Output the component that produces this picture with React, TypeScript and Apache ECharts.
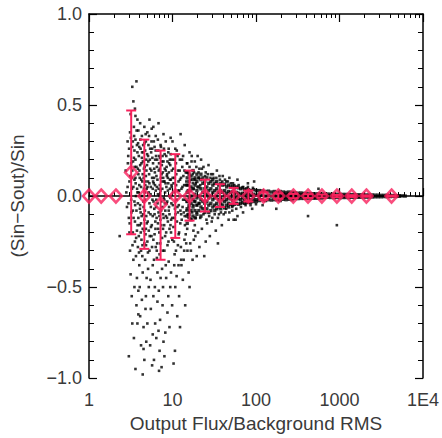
import React, { useEffect, useRef } from 'react';
import * as echarts from 'echarts';

const RED = '#f8215c';
const TEXT = '#3a3a3a';

// tick positions and labels
const xMajorTicks = [1, 10, 100, 1000, 10000];
const xTickLabels = ['1', '10', '100', '1000', '1E4'];
const xMinorTicks = [2, 3, 4, 5, 6, 7, 8, 9, 20, 30, 40, 50, 60, 70, 80, 90, 200, 300, 400, 500, 600, 700, 800, 900, 2000, 3000, 4000, 5000, 6000, 7000, 8000, 9000];
const yTickValues = [-1, -0.5, 0, 0.5, 1];
const yTickLabels = ['\u22121.0', '\u22120.5', '0.0', '0.5', '1.0'];

// binned means (red diamonds) and their error bar ends
const binX = [1, 1.4, 2.1, 3.2, 4.6, 7.2, 10.8, 16, 24.5, 37, 54, 81, 123, 185, 280, 420, 615, 930, 1400, 2100, 4200];
const binY = [0, 0, 0, 0.13, 0, -0.045, 0, 0, 0, 0, 0, 0, 0, 0, 0, 0, 0, 0, 0, 0, 0];
const binHigh = [null, null, null, 0.47, 0.31, 0.25, 0.23, 0.14, 0.09, 0.065, 0.045, 0.03, 0.02, 0.015, 0.012, 0.01, 0.008, 0.006, 0.005, 0.004, 0.003];
const binLow = [null, null, null, -0.21, -0.29, -0.35, -0.23, -0.135, -0.085, -0.06, -0.043, -0.03, -0.02, -0.015, -0.012, -0.01, -0.008, -0.006, -0.005, -0.004, -0.003];

// individual sources: sparse outer cloud
const scatterLeft: [number, number][] = [
  [2.33, -0.22], [2.75, 0.14], [2.8, 0.02], [2.85, -0.06], [2.9, 0.3], [2.95, 0.22], [3.0, -0.12], [3.05, 0.08], [3.1, 0.35], [3.1, -0.3],
  [3.15, -0.43], [3.2, 0.18], [3.2, -0.02], [3.25, -0.55], [3.0, -0.88], [3.3, 0.27], [2.9, 0.05], [3.05, -0.2], [3.15, 0.45], [3.25, 0.1],
  [3.3, 0.6], [3.4, 0.52], [3.55, 0.48], [3.7, 0.63], [3.6, 0.44], [3.8, 0.42], [3.45, 0.38], [3.9, 0.36], [4.1, 0.4], [4.3, 0.33], [4.6, 0.38], [4.8, 0.3],
  [3.35, 0.3], [3.5, 0.25], [3.6, 0.2], [3.75, 0.28], [3.85, 0.15], [3.95, 0.22], [4.05, 0.1], [4.15, 0.26], [4.25, 0.18], [4.4, 0.12], [4.5, 0.24], [4.65, 0.16], [4.75, 0.08], [4.85, 0.2],
  [3.4, 0.05], [3.5, -0.03], [3.6, 0.1], [3.7, -0.08], [3.8, 0.02], [3.9, -0.12], [4.0, 0.06], [4.1, -0.05], [4.2, -0.15], [4.3, 0.0], [4.45, -0.1], [4.55, 0.04], [4.7, -0.02], [4.8, -0.18],
  [3.35, -0.2], [3.55, -0.25], [3.65, -0.33], [3.85, -0.28], [4.0, -0.38], [4.2, -0.3], [4.4, -0.42], [4.6, -0.26], [4.7, -0.35], [4.9, -0.45],
  [3.5, -0.5], [3.7, -0.6], [3.9, -0.52], [4.1, -0.66], [4.3, -0.57], [4.5, -0.72], [4.75, -0.62], [3.45, -0.78], [3.8, -0.7], [4.2, -0.82], [4.6, -0.9], [4.85, -0.8], [3.6, -0.95], [4.4, -0.98],
];

const scatterMid: [number, number][] = [
  [5.0, 0.35], [5.3, 0.42], [5.6, 0.3], [5.9, 0.38], [6.3, 0.33], [6.8, 0.4], [7.2, 0.28], [7.8, 0.34], [8.3, 0.3], [9.0, 0.26], [9.5, 0.32],
  [5.1, 0.22], [5.4, 0.15], [5.7, 0.26], [6.0, 0.1], [6.2, 0.2], [6.5, 0.05], [6.9, 0.18], [7.4, 0.12], [7.6, 0.22], [8.0, 0.08], [8.5, 0.16], [8.8, 0.1], [9.3, 0.2],
  [5.2, 0.02], [5.5, -0.06], [5.8, 0.04], [6.1, -0.1], [6.4, -0.02], [6.7, -0.15], [7.0, 0.0], [7.3, -0.08], [7.7, -0.18], [8.1, -0.04], [8.6, -0.12], [9.1, -0.06], [9.6, -0.2],
  [5.0, -0.25], [5.3, -0.3], [5.6, -0.22], [6.0, -0.35], [6.3, -0.28], [6.6, -0.42], [7.0, -0.32], [7.5, -0.4], [8.0, -0.3], [8.4, -0.45], [9.0, -0.36], [9.4, -0.5],
  [5.2, -0.5], [5.5, -0.62], [5.9, -0.55], [6.2, -0.7], [6.6, -0.58], [7.1, -0.68], [7.6, -0.6], [8.2, -0.75], [8.7, -0.64], [5.4, -0.82], [6.0, -0.9], [6.4, -0.78],
  [7.0, -0.85], [7.4, -0.94], [8.0, -0.88], [9.2, -0.72], [10.3, -0.92], [5.7, -0.93], [6.9, -0.96],
  [3.3, 0.14], [3.35, -0.08], [3.45, 0.21], [3.5, 0.09], [3.55, -0.14], [3.6, 0.31], [3.65, 0.0], [3.7, 0.16], [3.75, -0.19], [3.8, 0.24], [3.85, -0.04], [3.9, 0.12],
  [3.95, -0.22], [4.0, 0.27], [4.05, -0.16], [4.1, 0.17], [4.15, -0.09], [4.2, 0.05], [4.25, -0.24], [4.3, 0.21], [4.35, 0.08], [4.4, -0.18], [4.45, 0.28], [4.5, -0.06],
  [4.55, 0.15], [4.6, -0.13], [4.65, 0.02], [4.7, 0.25], [4.75, -0.21], [4.8, 0.11], [4.85, -0.11], [4.9, 0.04], [4.95, 0.17],
  [5.05, -0.14], [5.1, 0.08], [5.15, 0.28], [5.2, -0.19], [5.25, 0.12], [5.3, -0.04], [5.35, 0.2], [5.45, -0.1], [5.5, 0.05], [5.55, 0.24], [5.65, -0.16], [5.7, 0.1],
  [5.75, -0.02], [5.85, 0.18], [5.9, -0.24], [5.95, 0.07], [6.05, -0.07], [6.1, 0.27], [6.15, 0.13], [6.25, -0.18], [6.3, 0.03], [6.35, 0.22], [6.45, -0.12], [6.5, 0.16],
  [6.55, -0.26], [6.6, 0.09], [6.7, 0.01], [6.75, 0.25], [6.8, -0.09], [6.85, 0.14], [6.95, -0.2], [7.05, 0.06], [7.1, 0.21], [7.15, -0.13], [7.25, 0.1], [7.35, -0.03],
  [7.45, 0.17], [7.5, -0.23], [7.55, 0.04], [7.65, 0.13], [7.7, -0.1], [7.8, 0.19], [7.85, -0.01], [7.9, 0.08], [7.95, -0.16], [8.05, 0.23], [8.15, 0.02], [8.2, -0.08],
  [8.3, 0.14], [8.4, -0.2], [8.45, 0.05], [8.55, 0.11], [8.65, -0.03], [8.7, 0.19], [8.8, -0.14], [8.9, 0.07], [8.95, -0.25], [9.05, 0.13], [9.15, 0.0], [9.2, -0.1],
  [9.3, 0.04], [9.4, 0.17], [9.45, -0.16], [9.55, 0.09], [9.7, -0.04], [9.8, 0.14], [9.9, -0.12],
  [3.4, -0.35], [3.75, -0.45], [4.05, -0.5], [4.35, -0.33], [4.8, -0.55], [5.1, -0.4], [5.45, -0.46], [5.8, -0.38], [6.15, -0.5], [6.5, -0.34], [6.85, -0.52], [7.2, -0.45],
  [7.7, -0.5], [8.3, -0.38], [8.9, -0.55], [9.6, -0.42], [10.5, -0.38], [11.2, -0.44], [12.8, -0.38], [13.8, -0.3], [3.9, -0.65], [5.0, -0.7], [5.8, -0.76], [6.8, -0.74],
  [7.8, -0.8], [4.5, -0.84], [3.3, -0.7], [9.9, -0.6], [12.3, -0.72], [10.7, -0.85],
];

const scatterExtra: [number, number][] = [
  [2.92, 0.18], [2.97, -0.04], [3.02, 0.26], [3.07, -0.15], [3.12, 0.11], [3.17, 0.32], [3.22, -0.09], [3.27, 0.04], [3.32, -0.27], [3.37, 0.19], [3.42, -0.12],
  [3.47, 0.33], [3.52, 0.16], [3.57, -0.05], [3.62, 0.07], [3.67, -0.23], [3.72, 0.36], [3.77, 0.04], [3.82, -0.16], [3.87, 0.29], [3.92, 0.02], [3.97, -0.31],
  [4.02, 0.14], [4.07, -0.07], [4.12, 0.31], [4.17, -0.2], [4.22, 0.09], [4.27, -0.11], [4.32, 0.24], [4.37, -0.27], [4.42, 0.19], [4.47, -0.03], [4.52, 0.1],
  [4.57, -0.19], [4.62, 0.29], [4.67, -0.08], [4.72, 0.06], [4.77, 0.34], [4.82, -0.27], [4.87, 0.14], [4.92, -0.15], [4.97, 0.23],
  [5.02, 0.05], [5.08, -0.31], [5.13, 0.19], [5.18, -0.09], [5.24, 0.33], [5.29, 0.07], [5.34, -0.22], [5.4, 0.26], [5.46, 0.01], [5.52, -0.17], [5.58, 0.14],
  [5.63, 0.37], [5.69, -0.28], [5.74, 0.21], [5.8, -0.11], [5.86, 0.08], [5.92, -0.03], [5.98, 0.3], [6.04, 0.15], [6.1, -0.21], [6.17, 0.06], [6.23, -0.14],
  [6.29, 0.25], [6.36, -0.06], [6.42, 0.11], [6.48, -0.3], [6.55, 0.2], [6.62, -0.04], [6.68, 0.31], [6.75, -0.18], [6.82, 0.04], [6.89, 0.22], [6.97, -0.11],
  [7.04, 0.15], [7.12, -0.26], [7.19, 0.03], [7.27, 0.27], [7.34, -0.16], [7.42, 0.08], [7.5, 0.19], [7.58, -0.06], [7.66, -0.3], [7.74, 0.1], [7.82, -0.12],
  [7.9, 0.26], [7.99, -0.02], [8.07, 0.15], [8.16, -0.22], [8.25, 0.07], [8.34, -0.11], [8.43, 0.22], [8.52, -0.04], [8.62, 0.12], [8.71, -0.27], [8.81, 0.03],
  [8.91, 0.24], [9.01, -0.08], [9.11, 0.18], [9.21, -0.18], [9.31, 0.09], [9.42, -0.01], [9.52, 0.23], [9.63, -0.13], [9.74, 0.06], [9.85, 0.2], [9.95, -0.24],
  [10.05, 0.1], [10.25, -0.17], [10.45, 0.2], [10.65, 0.02], [10.85, -0.1], [11.05, 0.06], [11.25, 0.25], [11.45, -0.06], [11.65, 0.14], [11.85, -0.21],
  [12.05, 0.03], [12.25, 0.2], [12.45, -0.08], [12.65, 0.1], [12.9, -0.13], [13.15, 0.05], [13.4, 0.22], [13.65, -0.09], [13.9, 0.14], [14.15, -0.02],
  [14.4, -0.21], [14.65, 0.08], [14.9, 0.18], [15.15, -0.1], [15.4, 0.06], [15.7, -0.06], [16.0, 0.16], [16.3, -0.12], [16.6, 0.03], [16.9, 0.19], [17.2, -0.09],
  [17.5, 0.07], [17.8, -0.19], [18.1, 0.13], [18.4, -0.03], [18.7, 0.09], [19.0, -0.12], [19.3, 0.16], [19.6, -0.05], [19.9, 0.05],
  [10.6, -0.32], [11.6, -0.27], [12.7, -0.35], [13.9, -0.24], [15.1, -0.3], [16.3, -0.26], [17.4, -0.35], [18.8, -0.22], [20.2, -0.2],
  [20.5, 0.13], [21.5, -0.12], [22.5, 0.15], [23.5, -0.1], [24.5, 0.11], [25.5, -0.13], [26.5, 0.12], [27.5, -0.11], [28.5, 0.1], [29.5, -0.14], [30.5, 0.12],
  [32, -0.1], [33.5, 0.1], [35, -0.12], [36.5, 0.11], [38, -0.09], [39.5, 0.08], [41, -0.1], [42.5, 0.09], [44, -0.07], [46, 0.08], [48, -0.09], [50, 0.07],
  [52, -0.06], [55, 0.06], [58, -0.07], [62, 0.06], [66, -0.06], [70, 0.05], [75, -0.05], [80, 0.05], [86, -0.05], [92, 0.045], [100, -0.045],
];

const scatterRight: [number, number][] = [
  [10, 0.3], [10.8, 0.26], [11.5, 0.22], [12.5, 0.34], [13, 0.2], [14, 0.28], [15, 0.18], [16, 0.24], [17, 0.22], [18.5, 0.19], [20, 0.22], [21, 0.15],
  [10.2, 0.15], [10.6, 0.1], [11, 0.18], [11.8, 0.08], [12.2, 0.14], [13.5, 0.11], [14.5, 0.06], [15.5, 0.13], [16.5, 0.09], [17.5, 0.12], [19, 0.07], [20.5, 0.1],
  [9.8, 0.05], [12.8, 0.04], [18, 0.04], [21.5, 0.06],
  [10.1, -0.05], [10.5, -0.12], [11.2, -0.02], [11.6, -0.09], [12.4, -0.15], [13.2, -0.06], [14, -0.11], [14.8, -0.03], [15.8, -0.08], [16.8, -0.13], [17.8, -0.05],
  [19.5, -0.09], [21, -0.04], [12, -0.2], [15, -0.18], [18.5, -0.16],
  [10.4, -0.25], [11, -0.3], [11.8, -0.38], [12.6, -0.28], [13.6, -0.35], [14.6, -0.26], [15.6, -0.42], [16.6, -0.3], [18, -0.24], [19.5, -0.33], [21, -0.28],
  [10.8, -0.5], [12, -0.55], [13.3, -0.46], [14.2, -0.6], [11.4, -0.66], [16, -0.5],
  [10.3, 0.07], [10.7, -0.07], [11.1, 0.12], [11.3, -0.14], [11.7, 0.03], [11.9, -0.05], [12.3, 0.09], [12.7, -0.1], [13.1, 0.16], [13.4, -0.02], [13.8, 0.06],
  [14.1, -0.16], [14.4, 0.13], [14.7, -0.08], [15.2, 0.03], [15.6, -0.12],
  [22, 0.2], [23.5, 0.16], [25, 0.13], [27, 0.17], [29, 0.12], [31, 0.1], [34, 0.14], [37, 0.09], [40, 0.11], [44, 0.08], [48, 0.1], [53, 0.07],
  [22.5, -0.18], [24, -0.33], [26, -0.15], [28, -0.22], [30, -0.12], [33, -0.19], [36, -0.1], [39, -0.16], [43, -0.09], [47, -0.13], [52, -0.08], [57, -0.13],
  [25, -0.25], [35, -0.26], [60, -0.11], [54, -0.13], [60, 0.09], [70, -0.09], [80, 0.07], [90, -0.07], [95, 0.08], [120, -0.05], [175, -0.07],
  [420, -0.11], [930, -0.16], [560, 0.04],
];

// dense core: each entry is [x, list of y values at that x]
const coreColumns: [number, number[]][] = [
  [15.0, [0.1, 0.06, 0.02, -0.03, -0.07, -0.11, 0.13, -0.15]],
  [15.8, [0.08, 0.03, -0.01, -0.05, -0.1, 0.12]],
  [16.7, [0.11, 0.05, 0.0, -0.04, -0.08, -0.13]],
  [17.6, [0.09, 0.04, -0.02, -0.06, -0.11, 0.14]],
  [18.6, [0.1, 0.06, 0.01, -0.03, -0.08, -0.12]],
  [19.6, [0.08, 0.03, -0.01, -0.05, -0.1, 0.12]],
  [20.7, [0.1, 0.05, 0.0, -0.04, -0.08]],
  [21.9, [0.09, 0.04, -0.02, -0.06, -0.11, 0.12]],
  [23.1, [0.07, 0.02, -0.03, -0.07, 0.1]],
  [24.4, [0.08, 0.04, 0.0, -0.04, -0.09]],
  [25.8, [0.1, 0.05, 0.01, -0.03, -0.07]],
  [27.2, [0.07, 0.03, -0.01, -0.05, -0.09]],
  [28.8, [0.08, 0.04, 0.0, -0.04, -0.08]],
  [30.4, [0.06, 0.02, -0.02, -0.06, 0.09]],
  [32.1, [0.07, 0.03, -0.01, -0.05, -0.08]],
  [33.9, [0.08, 0.04, 0.0, -0.04, -0.07]],
  [35.8, [0.06, 0.02, -0.02, -0.06]],
  [37.9, [0.07, 0.03, -0.01, -0.04, -0.07]],
  [40.0, [0.06, 0.02, -0.02, -0.05]],
  [42.2, [0.065, 0.03, 0.0, -0.03, -0.065]],
  [44.6, [0.05, 0.015, -0.02, -0.05]],
  [47.1, [0.06, 0.025, -0.01, -0.04, -0.06]],
  [49.8, [0.05, 0.02, -0.015, -0.045]],
  [52.6, [0.055, 0.025, 0.0, -0.025, -0.05]],
  [55.5, [0.045, 0.015, -0.015, -0.045]],
  [58.6, [0.05, 0.02, -0.01, -0.04]],
  [61.9, [0.045, 0.015, -0.015, -0.045]],
  [65.5, [0.04, 0.01, -0.02, -0.04]],
  [69.1, [0.045, 0.015, -0.01, -0.035]],
  [73.0, [0.035, 0.005, -0.02, -0.04]],
  [77.1, [0.04, 0.015, -0.01, -0.035]],
  [81.4, [0.035, 0.01, -0.015, -0.035]],
  [86.1, [0.03, 0.005, -0.02, -0.035]],
  [93.5, [0.035, 0.01, -0.015, -0.03]],
  [101, [0.03, 0.005, -0.02, -0.03]],
  [110, [0.03, 0.01, -0.01, -0.025]],
  [119, [0.028, 0.005, -0.02]],
  [130, [0.025, 0.0, -0.025]],
  [141, [0.027, 0.005, -0.02]],
  [153, [0.022, 0.0, -0.022]],
  [166, [0.025, 0.008, -0.008, -0.02]],
  [180, [0.02, 0.0, -0.02]],
  [195, [0.025, 0.015, 0.005, -0.005, -0.015, -0.025]],
  [212, [0.022, 0.012, 0.002, -0.008, -0.018]],
  [229, [0.02, 0.01, 0.0, -0.01, -0.02]],
  [248, [0.022, 0.012, 0.002, -0.008, -0.018]],
  [270, [0.02, 0.01, 0.0, -0.01, -0.02]],
  [292, [0.018, 0.008, -0.002, -0.012]],
  [317, [0.016, 0.006, -0.004, -0.014]],
  [344, [0.017, 0.007, -0.003, -0.013]],
  [373, [0.015, 0.005, -0.005, -0.013]],
  [405, [0.014, 0.004, -0.005, -0.012]],
  [444, [0.013, 0.004, -0.005, -0.013]],
  [478, [0.013, 0.004, -0.005, -0.012]],
  [519, [0.012, 0.003, -0.006, -0.012]],
  [564, [0.012, 0.003, -0.006, -0.012]],
  [612, [0.011, 0.002, -0.007, -0.011]],
  [664, [0.011, 0.002, -0.007]],
  [721, [0.011, 0.002, -0.007]],
  [783, [0.01, 0.001, -0.008]],
  [850, [0.01, 0.001, -0.008]],
  [922, [0.01, 0.001, -0.008]],
  [1007, [0.009, 0.0, -0.009]],
  [1090, [0.009, 0.0, -0.008]],
  [1180, [0.009, 0.0, -0.008]],
  [1285, [0.008, 0.0, -0.008]],
  [1395, [0.008, 0.0, -0.007]],
  [1515, [0.008, 0.0, -0.007]],
  [1640, [0.007, -0.001, -0.007]],
  [1785, [0.007, -0.001, -0.007]],
  [1935, [0.007, -0.001, -0.006]],
  [2100, [0.006, -0.001, -0.006]],
  [2287, [0.006, -0.001, -0.006]],
  [2480, [0.006, -0.005]],
  [2690, [0.005, -0.004]],
  [2920, [0.005, -0.004]],
  [3170, [0.004, -0.004]],
  [3450, [0.004, -0.003]],
  [3740, [0.004, -0.003]],
  [4060, [0.003, -0.003]],
  [4410, [0.003, -0.002]],
  [4790, [0.002, -0.002]],
  [5190, [0.002, -0.001]],
  [5640, [0.001]],
  [6120, [0.0]],
];

export default function App() {
  const ref = useRef<HTMLDivElement>(null);
  useEffect(() => {
    if (!ref.current) return;
    const chart = echarts.init(ref.current, null, { renderer: 'svg' });
    const coreData = coreColumns.flatMap(([x, ys]) => ys.map((y) => [x, y]));
    const outerData = [...scatterLeft, ...scatterMid, ...scatterExtra, ...scatterRight];
    const binData = binX.map((x, i) => [x, binY[i]]);
    const errData = binX
      .map((x, i) => [x, binLow[i], binHigh[i]])
      .filter((d) => d[1] !== null && d[2] !== null);

    const font = 'Liberation Sans, Helvetica, Arial, sans-serif';
    const xBase = {
      type: 'log' as const,
      logBase: 10,
      min: 1,
      max: 10000,
      gridIndex: 0,
      splitLine: { show: false },
    };
    chart.setOption({
      animation: false,
      backgroundColor: '#ffffff',
      grid: { left: 87, right: 18, top: 14, bottom: 53 },
      xAxis: [
        {
          ...xBase,
          position: 'bottom',
          name: 'Output Flux/Background RMS',
          nameLocation: 'middle',
          nameGap: 33,
          nameTextStyle: { color: TEXT, fontSize: 19, fontFamily: font },
          axisLine: { show: true, lineStyle: { color: '#000', width: 1.5 } },
          axisTick: { show: true, inside: true, length: 8, customValues: xMajorTicks, lineStyle: { color: '#000', width: 1.2 } },
          axisLabel: {
            show: true,
            customValues: xMajorTicks,
            margin: 13,
            color: TEXT,
            fontSize: 18,
            fontFamily: font,
            formatter: (v: number) => {
              const i = xMajorTicks.findIndex((t) => Math.abs(t - v) / t < 1e-6);
              return i >= 0 ? xTickLabels[i] : '';
            },
          },
        },
        {
          ...xBase,
          position: 'bottom',
          axisLine: { show: false },
          axisTick: { show: true, inside: true, length: 4, customValues: xMinorTicks, lineStyle: { color: '#000', width: 1 } },
          axisLabel: { show: false },
        },
        {
          ...xBase,
          position: 'top',
          axisLine: { show: true, lineStyle: { color: '#000', width: 1.5 } },
          axisTick: { show: true, inside: true, length: 8, customValues: xMajorTicks, lineStyle: { color: '#000', width: 1.2 } },
          axisLabel: { show: false },
        },
        {
          ...xBase,
          position: 'top',
          axisLine: { show: false },
          axisTick: { show: true, inside: true, length: 4, customValues: xMinorTicks, lineStyle: { color: '#000', width: 1 } },
          axisLabel: { show: false },
        },
      ],
      yAxis: [
        {
          type: 'value',
          min: -1,
          max: 1,
          interval: 0.5,
          position: 'left',
          name: '(Sin\u2212Sout)/Sin',
          nameLocation: 'middle',
          nameGap: 62,
          nameTextStyle: { color: TEXT, fontSize: 19, fontFamily: font },
          splitLine: { show: false },
          axisLine: { show: true, lineStyle: { color: '#000', width: 1.5 } },
          axisTick: { show: true, inside: true, length: 8, lineStyle: { color: '#000', width: 1.2 } },
          minorTick: { show: true, splitNumber: 5, length: 5, lineStyle: { color: '#000', width: 1 } },
          axisLabel: {
            margin: 7,
            color: TEXT,
            fontSize: 18,
            fontFamily: font,
            formatter: (v: number) => {
              const i = yTickValues.findIndex((t) => Math.abs(t - v) < 1e-6);
              return i >= 0 ? yTickLabels[i] : '';
            },
          },
        },
        {
          type: 'value',
          min: -1,
          max: 1,
          interval: 0.5,
          position: 'right',
          splitLine: { show: false },
          axisLine: { show: true, lineStyle: { color: '#000', width: 1.5 } },
          axisTick: { show: true, inside: true, length: 8, lineStyle: { color: '#000', width: 1.2 } },
          minorTick: { show: true, splitNumber: 5, length: 5, lineStyle: { color: '#000', width: 1 } },
          axisLabel: { show: false },
        },
      ],
      series: [
        {
          type: 'scatter',
          xAxisIndex: 0,
          yAxisIndex: 0,
          data: outerData,
          symbol: 'rect',
          symbolSize: 2.6,
          itemStyle: { color: '#000' },
          z: 2,
        },
        {
          type: 'scatter',
          xAxisIndex: 0,
          yAxisIndex: 0,
          data: coreData,
          symbol: 'rect',
          symbolSize: 3.4,
          itemStyle: { color: '#000' },
          z: 2,
        },
        {
          type: 'custom',
          xAxisIndex: 0,
          yAxisIndex: 0,
          data: errData,
          encode: { x: 0, y: [1, 2] },
          z: 4,
          renderItem: (params: any, api: any) => {
            const x = api.value(0);
            const lo = api.coord([x, api.value(1)]);
            const hi = api.coord([x, api.value(2)]);
            const hw = 5;
            const st = { stroke: RED, lineWidth: 2 };
            return {
              type: 'group',
              children: [
                { type: 'line', shape: { x1: lo[0], y1: lo[1], x2: hi[0], y2: hi[1] }, style: st },
                { type: 'line', shape: { x1: lo[0] - hw, y1: lo[1], x2: lo[0] + hw, y2: lo[1] }, style: st },
                { type: 'line', shape: { x1: hi[0] - hw, y1: hi[1], x2: hi[0] + hw, y2: hi[1] }, style: st },
              ],
            };
          },
        },
        {
          type: 'scatter',
          xAxisIndex: 0,
          yAxisIndex: 0,
          data: binData,
          symbol: 'diamond',
          symbolSize: [12, 13],
          itemStyle: { color: 'rgba(0,0,0,0)', borderColor: RED, borderWidth: 2.6 },
          z: 5,
        },
      ],
    });
    return () => chart.dispose();
  }, []);
  return <div ref={ref} style={{ position: 'absolute', left: 0, top: 0, width: 442, height: 438 }} />;
}
